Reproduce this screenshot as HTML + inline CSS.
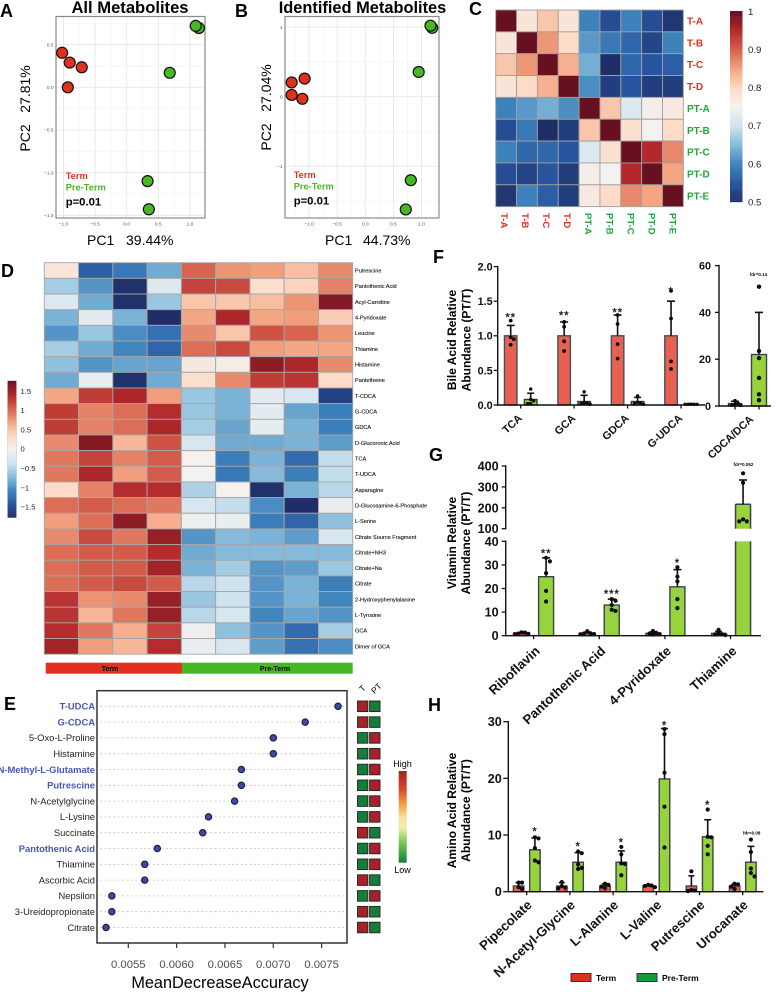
<!DOCTYPE html>
<html lang="en">
<head>
<meta charset="utf-8">
<title>Metabolomics figure</title>
<style>
html,body{margin:0;padding:0;background:#fff;}
svg{display:block;}
text{font-family:"Liberation Sans",sans-serif;}
.b{font-weight:bold;}
</style>
</head>
<body>
<svg id="fig" xmlns="http://www.w3.org/2000/svg" width="776" height="992" viewBox="0 0 776 992">
  <g id="gA">
    <text class="b" x="0" y="17" font-size="18">A</text>
    <text class="b" x="130" y="13" font-size="16.6" text-anchor="middle">All Metabolites</text>
    <text x="87" y="245" font-size="14">PC1</text>
    <text x="126" y="245" font-size="14">39.44%</text>
    <text x="30" y="138" font-size="14" text-anchor="middle" transform="rotate(-90 30 138)">PC2</text>
    <text x="30" y="89" font-size="14" text-anchor="middle" transform="rotate(-90 30 89)">27.81%</text>
  </g>
  <g id="gB">
    <text class="b" x="235" y="17" font-size="18">B</text>
    <text class="b" x="362.5" y="13" font-size="16.4" text-anchor="middle">Identified Metabolites</text>
    <text x="325" y="245" font-size="14">PC1</text>
    <text x="363" y="245" font-size="14">44.73%</text>
    <text x="271" y="137" font-size="14" text-anchor="middle" transform="rotate(-90 271 137)">PC2</text>
    <text x="271" y="88" font-size="14" text-anchor="middle" transform="rotate(-90 271 88)">27.04%</text>
  </g>
  <g id="gC">
    <text class="b" x="469" y="15" font-size="18">C</text>
  </g>
  <g id="gD">
    <text class="b" x="1" y="277" font-size="18">D</text>
  </g>
  <g id="gE">
    <text class="b" x="4" y="710" font-size="18">E</text>
    <text x="220" y="988" font-size="16.3" text-anchor="middle">MeanDecreaseAccuracy</text>
    <text x="402.5" y="767" font-size="9" text-anchor="middle">High</text>
    <text x="402.5" y="873" font-size="9" text-anchor="middle">Low</text>
    <text x="363" y="691" font-size="8.5" text-anchor="middle" transform="rotate(-45 363 689)">T</text>
    <text x="377" y="691" font-size="8.5" text-anchor="middle" transform="rotate(-45 377 689)">PT</text>
  </g>
  <g id="gF">
    <text class="b" x="433" y="263" font-size="18">F</text>
    <text class="b" x="456" y="340" font-size="12" text-anchor="middle" transform="rotate(-90 456 340)">Bile Acid Relative</text>
    <text class="b" x="470.5" y="340" font-size="12" text-anchor="middle" transform="rotate(-90 470.5 340)">Abundance (PT/T)</text>
    <text class="b" x="758.5" y="276" font-size="4.5" text-anchor="middle">fdr=0.14</text>
  </g>
  <g id="gG">
    <text class="b" x="429" y="461" font-size="18">G</text>
    <text class="b" x="456" y="543" font-size="12" text-anchor="middle" transform="rotate(-90 456 543)">Vitamin Relative</text>
    <text class="b" x="470" y="543" font-size="12" text-anchor="middle" transform="rotate(-90 470 543)">Abundance (PT/T)</text>
    <text class="b" x="743.5" y="466" font-size="4.5" text-anchor="middle">fdr=0.052</text>
  </g>
  <g id="gH">
    <text class="b" x="428" y="711" font-size="18">H</text>
    <text class="b" x="456" y="810.5" font-size="12" text-anchor="middle" transform="rotate(-90 456 810.5)">Amino Acid Relative</text>
    <text class="b" x="470" y="810.5" font-size="12" text-anchor="middle" transform="rotate(-90 470 810.5)">Abundance (PT/T)</text>
    <text class="b" x="751.7" y="834.5" font-size="4.5" text-anchor="middle">fdr=0.08</text>
    <rect x="571" y="973.5" width="20" height="8" fill="#e0301e" stroke="#333" stroke-width="1"/>
    <text class="b" x="596" y="981" font-size="8.5">Term</text>
    <rect x="637" y="973.5" width="20" height="8" fill="#0f9a3c" stroke="#333" stroke-width="1"/>
    <text class="b" x="662" y="981" font-size="8.5">Pre-Term</text>
  </g>
</svg>
<script>
// ---------- Panel A / B PCA scores ----------
const pcaATermPC1 = [-1.02, -0.90, -0.71, -0.93];
const pcaATermPC2 = [0.405, 0.29, 0.235, 0.0];
const pcaAPretermPC1 = [1.14, 1.09, 0.68, 0.33, 0.35];
const pcaAPretermPC2 = [0.695, 0.72, 0.17, -1.10, -1.43];
const pcaAXTicks = [-1.0, -0.5, 0.0, 0.5, 1.0];
const pcaAYTicks = [0.5, 0.0, -0.5, -1.0, -1.5];
const pcaBTermPC1 = [-1.31, -1.08, -1.31, -1.12];
const pcaBTermPC2 = [0.205, 0.26, 0.025, -0.03];
const pcaBPretermPC1 = [1.19, 1.16, 0.95, 0.81, 0.72];
const pcaBPretermPC2 = [0.99, 1.02, 0.355, -1.2, -1.62];
const pcaBXTicks = [-1.0, -0.5, 0.0, 0.5, 1.0];
const pcaBYTicks = [1, 0, -1];

// ---------- Panel C correlation ----------
const corrLabels = ["T-A","T-B","T-C","T-D","PT-A","PT-B","PT-C","PT-D","PT-E"];
const corrValues = [
 [1,.78,.82,.78,.60,.54,.60,.54,.51],
 [.78,1,.86,.80,.62,.59,.57,.53,.60],
 [.82,.86,1,.84,.64,.50,.57,.55,.56],
 [.78,.80,.84,1,.61,.52,.55,.52,.52],
 [.60,.62,.64,.61,1,.82,.72,.76,.77],
 [.54,.59,.50,.52,.82,1,.79,.75,.80],
 [.60,.57,.57,.55,.72,.79,1,.95,.87],
 [.54,.53,.55,.52,.76,.75,.95,1,.85],
 [.51,.60,.56,.52,.77,.80,.87,.85,1]
];
const corrScaleTicks = ["1","0.9","0.8","0.7","0.6","0.5"];

// ---------- Panel D heatmap ----------
const heatRows = ["Putrescine","Pantothenic Acid","Acyl-Carnitine","4-Pyridoxate","Leucine","Thiamine","Histamine","Pantetheine","T-CDCA","G-CDCA","GDCA","D-Glucoronic Acid","TCA","T-UDCA","Asparagine","D-Glucosamine-6-Phosphate","L-Serine","Citrate Source Fragment","Citrate+NH3","Citrate+Na","Citrate","2-Hydroxyphenylalanine","L-Tyrosine","GCA","Dimer of GCA"];
const heatValues = [
 [.2,-1.35,-1.15,-.8,1.05,.8,.75,.55,.85],
 [-.55,-.95,-1.75,-.2,1.25,1.2,.3,.4,.9],
 [-.22,-.8,-1.75,-.6,.5,.5,.55,.8,1.65],
 [-.75,-.15,-.75,-1.78,.7,1.45,.7,.75,.45],
 [-.95,-.6,-1,-1.2,.85,.5,1.15,1.05,.8],
 [-.55,-.8,-1.05,-1.3,1,1.2,.75,.7,.7],
 [-.65,-.95,-.85,-.85,.15,.1,1.6,1.45,.85],
 [-.8,-.1,-1.75,-.8,.3,.85,1.3,1.35,.35],
 [.7,1.3,1.45,.75,-.6,-.75,-.15,-.25,-1.6],
 [1.3,.9,1,1.4,-.6,-.75,-.15,-.85,-1.1],
 [1.3,.9,1,1.45,-.55,-.85,-.12,-.75,-1.1],
 [.85,1.65,.6,1.15,-.25,-.8,-.8,-.75,-.9],
 [.95,1.25,.9,1.1,.02,-1.1,-.75,-1.25,-.4],
 [.95,1.45,.75,1.1,0,-1.15,-.7,-1.1,-.4],
 [.35,.9,1.4,1.4,-.5,.02,-1.75,-.75,-.45],
 [1,1.1,1,.95,-.25,-.4,-1,-1.78,-.08],
 [.75,1,1.6,.65,-.05,-.1,-1.1,-1.3,-.65],
 [.85,1.2,.95,1.55,-.95,-.7,-.75,-.9,-.25],
 [1,1.1,1.1,1.4,-.8,-.7,-.7,-.7,-.7],
 [1,1.1,1.1,1.5,-.75,-.55,-.95,-.9,-.6],
 [1,1.1,1.2,1.1,-.45,-.35,-.95,-.75,-1.1],
 [1.35,.8,.85,1.55,-.6,-.35,-.95,-.75,-1.05],
 [1.35,.6,.95,1.55,-.45,-.25,-1.05,-.85,-.95],
 [1.4,.95,.65,1.25,-.05,-.65,-.95,-1.25,-.55],
 [1.5,.75,.6,1.4,-.1,-.25,-.9,-1.2,-1]
];
const heatScaleTicks = [1.5, 1, 0.5, 0, -0.5, -1, -1.5];

// ---------- Panel E importance ----------
const impLabels = ["T-UDCA","G-CDCA","5-Oxo-L-Proline","Histamine","N-Methyl-L-Glutamate","Putrescine","N-Acetylglycine","L-Lysine","Succinate","Pantothenic Acid","Thiamine","Ascorbic Acid","Nepsilon","3-Ureidopropionate","Citrate"];
const impValues = [.00767,.00733,.0070,.0070,.00667,.00667,.0066,.00633,.00627,.0058,.00567,.00567,.00533,.00533,.00527];
const impHighlighted = [1,1,0,0,1,1,0,0,0,1,0,0,0,0,0];
const impTermHigh = [1,1,0,0,0,0,0,0,1,0,0,1,0,1,1];
const impTicks = [.0055,.0060,.0065,.0070,.0075];

// ---------- Panel F bile acids ----------
const bileLabels = ["TCA","GCA","GDCA","G-UDCA"];
const bileTermMean = [1,1,1,1];
const bileTermUpper = [1.15,1.2,1.3,1.5];
const bilePretermMean = [.08,.05,.05,.01];
const bilePretermUpper = [.17,.14,.11,.02];
const bileTermDots = [[1.22,.98,.95,.87],[1.2,1.13,.92,.78],[1.3,1.17,.88,.67],[1.65,1.25,.63,.52]];
const bilePretermDots = [[.23,.08,.06,.02,.02],[.19,.03,.03,.02,.01],[.13,.04,.03,.02,.01],[.01,.01,.01,.01,.01]];
const bileStars = ["**","**","**","*"];
const bileTicks = ["0.0","0.5","1.0","1.5","2.0"];
const ratioLabel = "CDCA/DCA";
const ratioTermMean = 1;
const ratioTermUpper = 2;
const ratioPretermMean = 22;
const ratioPretermUpper = 40;
const ratioTermDots = [2.3,1.2,.8,.4,.3];
const ratioPretermDots = [51,23.5,20.5,12,5,2.5];
const ratioTicks = [0,20,40,60];

// ---------- Panel G vitamins ----------
const vitLabels = ["Riboflavin","Pantothenic Acid","4-Pyridoxate","Thiamine"];
const vitTermMean = [1,1,1,1];
const vitTermUpper = [1.4,1.5,1.6,1.8];
const vitPretermMean = [25,13,20.7,217];
const vitPretermUpper = [33,15.5,28,333];
const vitTermDots = [[1.4,1.3,.9,.8,.7],[1.9,1,.9,.7,.6],[2,1.2,.9,.7,.5],[2.5,1.1,.6,.5,.3]];
const vitPretermDots = [[33,31.5,26.5,19,14.5],[15.5,14.8,13,11,10.5],[29,25,23,15.5,11.7],[365,320,145,135,135]];
const vitStars = ["**","***","*",""];
const vitUpperTicks = [100,200,300,400];
const vitLowerTicks = [0,10,20,30,40];

// ---------- Panel H amino acids ----------
const aminoLabels = ["Pipecolate","N-Acetyl-Glycine","L-Alanine","L-Valine","Putrescine","Urocanate"];
const aminoTermMean = [1,1,1,1,1,1];
const aminoTermUpper = [1.6,1.6,1.4,1.2,2.8,1.35];
const aminoPretermMean = [7.4,5.2,5.2,19.9,9.7,5.2];
const aminoPretermUpper = [9.5,6.9,7.2,28.8,12.7,8];
const aminoTermDots = [[1.6,1.6,.8,.5],[1.7,1,.7,.6],[1.4,1.2,.9,.6],[1.2,1.1,1,.8],[3.6,.3,.2,.1],[1.4,1.3,.9,.5]];
const aminoPretermDots = [[9.6,9.4,7.7,5.5,5.2],[7.1,6.8,4.8,4.2,4],[7.9,6.6,5,4.9,2.9],[28.7,27.8,21,15,7.8],[14.5,9.7,9.6,8.1,6.6],[9.2,7,4.1,3.3,2.7]];
const aminoStars = ["*","*","*","*","*",""];
const aminoTicks = [0,10,20,30];

// ---------- helpers ----------
const NS = "http://www.w3.org/2000/svg";
const RED = "#e2301e", GREEN = "#45b823";
function add(parent, tag, attrs, name, text) {
  const el = document.createElementNS(NS, tag);
  for (const k in attrs) el.setAttribute(k, attrs[k]);
  
  
  if (text !== undefined) el.textContent = text;
  parent.appendChild(el);
  return el;
}
const ramp = [[31,47,102],[40,85,160],[62,130,188],[130,185,217],[205,226,239],[243,242,240],[253,219,199],[244,165,130],[214,96,77],[178,40,43],[103,16,31]];
function rampColor(t) {
  t = Math.max(0, Math.min(1, t)) * (ramp.length - 1);
  const i = Math.min(ramp.length - 2, Math.floor(t)), f = t - i;
  const c = ramp[i].map((v, k) => Math.round(v + (ramp[i + 1][k] - v) * f));
  return `rgb(${c[0]},${c[1]},${c[2]})`;
}
function minusText(s) { return String(s).replace("-", "\u2212"); }

// ---------- PCA panels ----------
function drawPCA(g, cfg) {
  const {x, y, box} = cfg;
  add(g, "rect", {x: box[0], y: box[1], width: box[2] - box[0], height: box[3] - box[1], fill: "#fff"}, "pca-plot-background");
  const xStep = cfg.xTicks[1] - cfg.xTicks[0];
  const yStep = cfg.yTicks[0] - cfg.yTicks[1];
  for (let v = cfg.xTicks[0] - xStep / 2; x(v) < box[2]; v += xStep / 2) {
    if (x(v) > box[0]) add(g, "line", {x1: x(v), x2: x(v), y1: box[1], y2: box[3], stroke: "#f3f3f3", "stroke-width": .7}, "pca-grid-line-x");
  }
  for (let v = cfg.yTicks[0] + yStep / 2; y(v) < box[3]; v -= yStep / 2) {
    if (y(v) > box[1]) add(g, "line", {x1: box[0], x2: box[2], y1: y(v), y2: y(v), stroke: "#f3f3f3", "stroke-width": .7}, "pca-grid-line-y");
  }
  cfg.xTicks.forEach(v => {
    add(g, "line", {x1: x(v), x2: x(v), y1: box[1], y2: box[3], stroke: "#e8e8e8", "stroke-width": .9}, "pca-major-grid-x");
    add(g, "text", {x: x(v), y: box[3] + 7.5, "font-size": 4.8, fill: "#555", "text-anchor": "middle"}, "pca-x-tick-label", minusText(v.toFixed(1)));
  });
  cfg.yTicks.forEach(v => {
    add(g, "line", {x1: box[0], x2: box[2], y1: y(v), y2: y(v), stroke: "#e8e8e8", "stroke-width": .9}, "pca-major-grid-y");
    add(g, "text", {x: box[0] - 2.5, y: y(v) + 1.7, "font-size": 4.8, fill: "#555", "text-anchor": "end"}, "pca-y-tick-label", minusText(cfg.yFmt(v)));
  });
  add(g, "rect", {x: box[0], y: box[1], width: box[2] - box[0], height: box[3] - box[1], fill: "none", stroke: "#8a8a8a", "stroke-width": 1.2}, "pca-plot-border");
  cfg.tx.forEach((v, i) => add(g, "circle", {cx: x(v), cy: y(cfg.ty[i]), r: 5.5, fill: "#e0301e", stroke: "#111", "stroke-width": 1.2}, "pca-point-term"));
  cfg.px.forEach((v, i) => add(g, "circle", {cx: x(v), cy: y(cfg.py[i]), r: 5.5, fill: "#45b823", stroke: "#111", "stroke-width": 1.2}, "pca-point-preterm"));
  add(g, "text", {x: cfg.lx, y: cfg.ly, "font-size": 9.3, fill: RED, "font-weight": "bold"}, "pca-legend-term", "Term");
  add(g, "text", {x: cfg.lx, y: cfg.ly + 11.5, "font-size": 9.3, fill: GREEN, "font-weight": "bold"}, "pca-legend-preterm", "Pre-Term");
  add(g, "text", {x: cfg.lx, y: cfg.ly + 26.5, "font-size": 11.3, fill: "#000", "font-weight": "bold"}, "pca-p-value", "p=0.01");
}
drawPCA(document.getElementById("gA"), {
  x: v => 126.7 + v * 63.3, y: v => 87.3 - v * 85.3, box: [56, 16.5, 205, 218],
  xTicks: pcaAXTicks, yTicks: pcaAYTicks, yFmt: v => v.toFixed(1),
  tx: pcaATermPC1, ty: pcaATermPC2, px: pcaAPretermPC1, py: pcaAPretermPC2, lx: 65.7, ly: 179
});
drawPCA(document.getElementById("gB"), {
  x: v => 365.3 + v * 56.2, y: v => 96.7 - v * 69.6, box: [285, 16.5, 439, 218],
  xTicks: pcaBXTicks, yTicks: pcaBYTicks, yFmt: v => String(v),
  tx: pcaBTermPC1, ty: pcaBTermPC2, px: pcaBPretermPC1, py: pcaBPretermPC2, lx: 293.7, ly: 178
});

// ---------- Panel C ----------
(function () {
  const g = document.getElementById("gC");
  const x0 = 495.7, y0 = 10, cw = 20.85, ch = 21.85;
  const corrColor = v => rampColor((v - .5) / .5);
  corrValues.forEach((row, r) => row.forEach((v, c) => {
    add(g, "rect", {x: x0 + c * cw, y: y0 + r * ch, width: cw, height: ch, fill: corrColor(v), stroke: "#a0a0a0", "stroke-width": .9}, "correlation-cell");
  }));
  corrLabels.forEach((lab, i) => {
    const col = i < 4 ? RED : "#1fa83c";
    add(g, "text", {x: 687, y: y0 + (i + .5) * ch + 3.6, "font-size": 10, "font-weight": "bold", fill: col}, "correlation-row-label", lab);
    const xx = 501 + i * 21.05;
    add(g, "text", {x: xx, y: 213, "font-size": 9.5, "font-weight": "bold", fill: col, transform: `rotate(90 ${xx} 213)`}, "correlation-column-label", lab);
  });
  const bar = 20;
  for (let i = 0; i < bar * 5; i++) {
    const t = 1 - i / (bar * 5);
    add(g, "rect", {x: 730, y: 11 + i * 1.91, width: 12.5, height: 2.1, fill: corrColor(.5 + t * .5)}, "correlation-scale-segment");
  }
  corrScaleTicks.forEach(t => {
    const yy = 202 - (Number(t) - .5) / .5 * 190.5;
    add(g, "text", {x: 748, y: yy + 3.4, "font-size": 9.6, fill: "#222"}, "correlation-scale-label", t);
  });
})();

// ---------- Panel D ----------
(function () {
  const g = document.getElementById("gD");
  const x0 = 44.3, y0 = 262.7, cw = 34.27, ch = 15.66;
  const col = v => rampColor((v + 1.78) / 3.56);
  heatValues.forEach((row, r) => row.forEach((v, c) => {
    add(g, "rect", {x: x0 + c * cw, y: y0 + r * ch, width: cw, height: ch, fill: col(v), stroke: "#a6a6a6", "stroke-width": .9}, "heatmap-cell");
  }));
  heatRows.forEach((lab, r) => {
    add(g, "text", {x: 355, y: y0 + (r + .5) * ch + 2, "font-size": 5.6, fill: "#111", stroke: "#111", "stroke-width": .12}, "heatmap-row-label", lab);
  });
  for (let i = 0; i < 70; i++) {
    const v = 1.77 - i * (3.55 / 70);
    add(g, "rect", {x: 7.5, y: 380.7 + i * 1.957, width: 9, height: 2.2, fill: col(v)}, "heatmap-scale-segment");
  }
  add(g, "rect", {x: 7.5, y: 380.7, width: 9, height: 137, fill: "none", stroke: "#bbb", "stroke-width": .4}, "heatmap-scale-border");
  heatScaleTicks.forEach(v => {
    add(g, "text", {x: 20.5, y: 449 - v * 38.6 + 2.7, "font-size": 7.6, fill: "#222"}, "heatmap-scale-label", minusText(v));
  });
  add(g, "rect", {x: 45.7, y: 662.7, width: 136.3, height: 11, fill: "#e2301e"}, "annotation-bar-term");
  add(g, "rect", {x: 182, y: 662.7, width: 170.7, height: 11, fill: "#45b823"}, "annotation-bar-preterm");
  add(g, "text", {x: 110, y: 671, "font-size": 7, "font-weight": "bold", "text-anchor": "middle"}, "annotation-label-term", "Term");
  add(g, "text", {x: 275, y: 671, "font-size": 7, "font-weight": "bold", "text-anchor": "middle"}, "annotation-label-preterm", "Pre-Term");
})();

// ---------- Panel E ----------
(function () {
  const g = document.getElementById("gE");
  const x = v => 128.3 + (v - .0055) / .0005 * 48.33;
  const y = i => 706.3 + i * 15.8;
  add(g, "rect", {x: 97, y: 690.7, width: 250, height: 252.3, fill: "#fff", stroke: "#333", "stroke-width": 1.5}, "importance-plot-border");
  impLabels.forEach((lab, i) => {
    add(g, "line", {x1: 100, x2: 344, y1: y(i), y2: y(i), stroke: "#c4c4c4", "stroke-width": .8, "stroke-dasharray": "2 2.4"}, "importance-guide-line");
    const hl = impHighlighted[i];
    add(g, "text", {x: 95, y: y(i) + 3.3, "font-size": 9.4, "text-anchor": "end", fill: hl ? "#4a55b5" : "#222", "font-weight": hl ? "bold" : "normal"}, "importance-label", lab);
    add(g, "circle", {cx: x(impValues[i]), cy: y(i), r: 3.2, fill: "#3f48a8", stroke: "#1a1d33", "stroke-width": 1.1}, "importance-dot");
    const red = "#a82028", grn = "#147d3a";
    add(g, "rect", {x: 357.5, y: y(i) - 5.3, width: 10.4, height: 10.6, fill: impTermHigh[i] ? red : grn, stroke: "#222", "stroke-width": .9}, "importance-term-square");
    add(g, "rect", {x: 369.6, y: y(i) - 5.3, width: 10.4, height: 10.6, fill: impTermHigh[i] ? grn : red, stroke: "#222", "stroke-width": .9}, "importance-preterm-square");
  });
  impTicks.forEach(v => {
    add(g, "line", {x1: x(v), x2: x(v), y1: 943, y2: 948, stroke: "#333", "stroke-width": 1.2}, "importance-x-tick");
    add(g, "text", {x: x(v), y: 968, "font-size": 11.3, fill: "#4d4d4d", "text-anchor": "middle"}, "importance-x-tick-label", v.toFixed(4));
  });
  const grad = document.createElementNS(NS, "linearGradient");
  grad.setAttribute("id", "hl");
  grad.setAttribute("x1", "0");
  grad.setAttribute("y1", "0");
  grad.setAttribute("x2", "0");
  grad.setAttribute("y2", "1");
  [["0", "#a82028"], [".2", "#d9472c"], [".35", "#f59a3c"], [".5", "#f7dd96"], [".62", "#eef0b0"], [".78", "#7cc84f"], ["1", "#147d3a"]].forEach(s => {
    const st = document.createElementNS(NS, "stop");
    st.setAttribute("offset", s[0]);
    st.setAttribute("stop-color", s[1]);
    grad.appendChild(st);
  });
  document.getElementById("fig").appendChild(grad);
  add(g, "rect", {x: 398.7, y: 771, width: 8, height: 91.7, fill: "url(#hl)"}, "importance-legend-gradient");
})();

// ---------- Bar chart helpers ----------
function swarm(values, y, spacing) {
  const placed = [];
  return values.map(v => {
    const py = y(v);
    let chosen = 0;
    for (const off of [0, 1, -1, 2, -2, 3, -3]) {
      const px = off * spacing;
      if (placed.every(p => Math.hypot(p.x - px, p.y - py) >= spacing * .95)) { chosen = px; break; }
    }
    placed.push({x: chosen, y: py});
    return {x: chosen, y: py};
  });
}
function drawGroup(g, o) {
  if (o.segments) {
    o.segments.forEach(s => add(g, "rect", {x: o.cx - o.width / 2, y: s[0], width: o.width, height: s[1] - s[0], fill: o.fill}, o.name + "-bar"));
    o.segments.forEach(s => {
      const l = o.cx - o.width / 2, r = o.cx + o.width / 2;
      add(g, "line", {x1: l, x2: l, y1: s[0], y2: s[1], stroke: o.stroke, "stroke-width": 1.5}, o.name + "-bar-edge");
      add(g, "line", {x1: r, x2: r, y1: s[0], y2: s[1], stroke: o.stroke, "stroke-width": 1.5}, o.name + "-bar-edge");
      if (s[2]) add(g, "line", {x1: l, x2: r, y1: s[0], y2: s[0], stroke: o.stroke, "stroke-width": 1.5}, o.name + "-bar-top");
    });
  } else {
    add(g, "rect", {x: o.cx - o.width / 2, y: o.y(o.mean), width: o.width, height: o.y(0) - o.y(o.mean), fill: o.fill, stroke: o.stroke, "stroke-width": 1.4}, o.name + "-bar");
  }
  add(g, "line", {x1: o.cx, x2: o.cx, y1: o.y(o.mean), y2: o.y(o.upper), stroke: "#111", "stroke-width": 1.6}, o.name + "-error-bar");
  add(g, "line", {x1: o.cx - o.capW / 2, x2: o.cx + o.capW / 2, y1: o.y(o.upper), y2: o.y(o.upper), stroke: "#111", "stroke-width": 1.6}, o.name + "-error-cap");
  swarm(o.dots, o.y, o.spacing).forEach(p => {
    add(g, "circle", {cx: o.cx + p.x, cy: p.y, r: o.r, fill: "#0b0b0b"}, o.name + "-dot");
  });
}
function yAxis(g, x, top, bottom, ticks, y, fs, tl, gap, name) {
  add(g, "line", {x1: x, x2: x, y1: top - .7, y2: bottom + .7, stroke: "#111", "stroke-width": 1.4}, name + "-line");
  ticks.forEach(t => {
    const v = Number(t);
    add(g, "line", {x1: x - tl, x2: x, y1: y(v), y2: y(v), stroke: "#111", "stroke-width": 1.3}, name + "-tick");
    add(g, "text", {x: x - tl - gap, y: y(v) + fs * .36, "font-size": fs, "font-weight": "bold", "text-anchor": "end", fill: "#111"}, name + "-tick-label", t);
  });
}
function xAxis(g, x1, x2, y, centers, name) {
  add(g, "line", {x1: x1, x2: x2, y1: y, y2: y, stroke: "#111", "stroke-width": 1.4}, name + "-line");
  centers.forEach(c => add(g, "line", {x1: c, x2: c, y1: y, y2: y + 3.5, stroke: "#111", "stroke-width": 1.3}, name + "-tick"));
}
function slantLabel(g, x, y, text, fs, name) {
  add(g, "text", {x: x, y: y, "font-size": fs, "font-weight": "bold", "text-anchor": "end", fill: "#111", transform: `rotate(-43 ${x} ${y})`}, name, text);
}
function stars(g, x, cy, s) {
  if (s) add(g, "text", {x: x, y: cy + 5.5, "font-size": 11.5, "text-anchor": "middle", "letter-spacing": .8, fill: "#111", stroke: "#111", "stroke-width": .25}, "significance-stars", s);
}
const BAR_RED = "#e8604f", BAR_GREEN = "#97d33c", EDGE = "#3d4148";

// ---------- Panel F ----------
(function () {
  const g = document.getElementById("gF");
  const y = v => 405 - v * 69.2;
  const cx = i => 520.7 + i * 53.45;
  const starY = [316, 314, 311, 290];
  yAxis(g, 497.7, y(2), y(0), bileTicks, y, 10.8, 4, 1, "bile-y-axis");
  bileLabels.forEach((lab, i) => {
    drawGroup(g, {cx: cx(i) - 10, width: 12.5, mean: bileTermMean[i], upper: bileTermUpper[i], dots: bileTermDots[i], y, fill: BAR_RED, stroke: "#44505f", capW: 8, spacing: 3.2, r: 1.9, name: "bile-term"});
    drawGroup(g, {cx: cx(i) + 10, width: 12.5, mean: bilePretermMean[i], upper: bilePretermUpper[i], dots: bilePretermDots[i], y, fill: BAR_GREEN, stroke: "#333", capW: 7, spacing: 3, r: 1.7, name: "bile-preterm"});
    stars(g, cx(i) - 10, starY[i], bileStars[i]);
    slantLabel(g, cx(i) + 2, 419, lab, 10.8, "bile-x-label");
  });
  xAxis(g, 497, 705, y(0), bileLabels.map((_, i) => cx(i)), "bile-x-axis");

  const y2 = v => 406 - v * 2.34;
  yAxis(g, 719, y2(60), y2(0), ratioTicks.map(String), y2, 10.8, 4, 4, "ratio-y-axis");
  drawGroup(g, {cx: 735, width: 13, mean: ratioTermMean, upper: ratioTermUpper, dots: ratioTermDots, y: y2, fill: BAR_RED, stroke: "#333", capW: 8, spacing: 3, r: 1.8, name: "ratio-term"});
  drawGroup(g, {cx: 759, width: 15, mean: ratioPretermMean, upper: ratioPretermUpper, dots: ratioPretermDots, y: y2, fill: BAR_GREEN, stroke: "#3d4148", capW: 8, spacing: 3.2, r: 2.2, name: "ratio-preterm"});
  xAxis(g, 719, 771, y2(0), [735, 759], "ratio-x-axis");
  slantLabel(g, 754, 420, ratioLabel, 10.8, "ratio-x-label");
})();

// ---------- Panel G ----------
(function () {
  const g = document.getElementById("gG");
  const y = v => v <= 40 ? 635.7 - v * 2.36 : 528.7 - (v - 100) * .209;
  const cx = i => 533.6 + i * 65.65;
  const starY = [552, 592.3, 561.7, 0];
  yAxis(g, 505.7, y(400), y(100), vitUpperTicks.map(String), y, 12.6, 4, 3, "vitamin-upper-y-axis");
  yAxis(g, 505.7, y(40), y(0), vitLowerTicks.map(String), y, 12.6, 4, 3, "vitamin-lower-y-axis");
  vitLabels.forEach((lab, i) => {
    drawGroup(g, {cx: cx(i) - 12, width: 14, mean: vitTermMean[i], upper: vitTermUpper[i], dots: vitTermDots[i], y, fill: BAR_RED, stroke: EDGE, capW: 7, spacing: 3.4, r: 2.1, name: "vitamin-term"});
    const mean = vitPretermMean[i];
    const cfg = {cx: cx(i) + 12.5, width: 15, mean: mean, upper: vitPretermUpper[i], dots: vitPretermDots[i], y, fill: BAR_GREEN, stroke: EDGE, capW: 8, spacing: 3.8, r: 2.1, name: "vitamin-preterm"};
    if (mean > 40) cfg.segments = [[y(mean), y(100), true], [y(40), y(0), false]];
    drawGroup(g, cfg);
    stars(g, cx(i) + 12.5, starY[i], vitStars[i]);
    slantLabel(g, cx(i) + 7, 652, lab, 13.2, "vitamin-x-label");
  });
  xAxis(g, 505, 761, y(0), vitLabels.map((_, i) => cx(i)), "vitamin-x-axis");
})();

// ---------- Panel H ----------
(function () {
  const g = document.getElementById("gH");
  const y = v => 891.7 - v * 5.667;
  const cx = i => 526.7 + i * 43.2;
  const starY = [830, 845, 841, 724, 803.3, 0];
  yAxis(g, 508.3, y(30), y(0), aminoTicks.map(String), y, 12.6, 5, 1.5, "amino-y-axis");
  aminoLabels.forEach((lab, i) => {
    drawGroup(g, {cx: cx(i) - 8.1, width: 10.5, mean: aminoTermMean[i], upper: aminoTermUpper[i], dots: aminoTermDots[i], y, fill: BAR_RED, stroke: "#444", capW: 6, spacing: 3.4, r: 2.1, name: "amino-term"});
    drawGroup(g, {cx: cx(i) + 8.2, width: 10.5, mean: aminoPretermMean[i], upper: aminoPretermUpper[i], dots: aminoPretermDots[i], y, fill: BAR_GREEN, stroke: EDGE, capW: 7, spacing: 3.6, r: 2.1, name: "amino-preterm"});
    stars(g, cx(i) + 8.2, starY[i], aminoStars[i]);
    slantLabel(g, cx(i) + 6, 906, lab, 13.2, "amino-x-label");
  });
  xAxis(g, 508, 763.5, y(0), aminoLabels.map((_, i) => cx(i)), "amino-x-axis");
})();
</script>
</body>
</html>
